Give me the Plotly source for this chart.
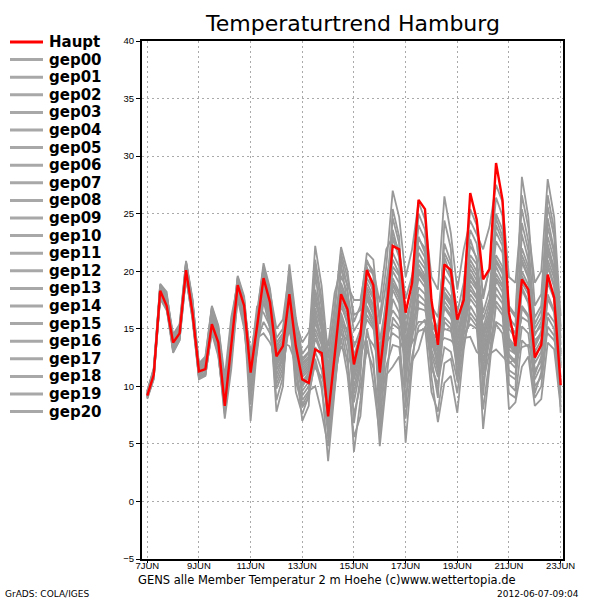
import plotly.graph_objects as go
import pandas as pd

# ---- data -------------------------------------------------------------
times = pd.date_range("2012-06-07 00:00", periods=65, freq="6h")

haupt = [9.2, 11.0, 18.3, 17.0, 13.8, 14.6, 20.1, 16.4, 11.3, 11.5, 15.4, 13.8,
         8.3, 13.5, 18.8, 17.0, 11.2, 15.2, 19.4, 17.3, 12.6, 13.5, 18.0, 13.5,
         10.6, 10.3, 13.2, 12.9, 7.4, 12.6, 18.0, 16.7, 11.9, 14.4, 20.1, 18.8,
         11.2, 16.3, 22.2, 21.9, 16.4, 19.0, 26.2, 25.4, 17.5, 13.6, 20.6, 20.1,
         15.8, 17.5, 26.8, 24.5, 19.3, 20.2, 29.4, 26.2, 16.4, 13.5, 19.3, 18.4,
         12.5, 13.6, 19.7, 17.7, 10.1]

gep00 = [9.2, 11.0, 18.2, 17.2, 13.6, 14.5, 20.0, 16.5, 11.2, 11.6, 15.6, 13.9,
         8.6, 13.6, 18.7, 16.8, 11.0, 15.0, 19.2, 17.0, 12.4, 13.2, 17.6, 13.4,
         10.8, 11.4, 15.0, 13.6, 9.2, 13.0, 17.4, 16.0, 11.2, 13.8, 18.4, 17.0,
         10.6, 15.6, 20.4, 19.6, 13.2, 16.4, 21.0, 20.2, 15.0, 13.2, 18.6, 17.8,
         14.0, 16.2, 20.6, 19.6, 14.6, 16.6, 21.4, 20.4, 14.2, 13.4, 20.8, 19.4,
         13.4, 14.6, 21.0, 19.4, 12.0]
gep01 = [9.4, 11.2, 18.6, 17.6, 14.0, 14.8, 20.4, 17.0, 11.6, 12.0, 16.2, 14.6,
         9.4, 14.2, 19.2, 17.4, 11.8, 15.6, 20.0, 17.8, 13.2, 14.0, 18.6, 14.4,
         11.6, 12.2, 17.6, 15.0, 10.4, 14.4, 19.0, 17.4, 12.6, 14.6, 19.4, 18.4,
         12.8, 17.8, 24.6, 22.4, 14.6, 18.2, 24.0, 22.8, 16.6, 14.8, 22.4, 20.8,
         15.6, 17.6, 22.2, 21.2, 16.4, 18.4, 25.0, 23.6, 16.0, 15.2, 28.2, 24.7,
         17.0, 18.0, 25.6, 23.0, 14.8]
gep02 = [9.0, 10.8, 17.8, 16.8, 13.2, 14.1, 19.6, 16.0, 10.8, 11.0, 14.9, 13.0,
         7.2, 11.5, 17.8, 15.6, 9.2, 13.4, 18.2, 15.4, 9.8, 11.2, 16.0, 11.6,
         8.2, 9.0, 12.4, 10.2, 3.5, 9.5, 15.6, 13.0, 4.3, 8.8, 15.0, 12.4,
         4.8, 10.3, 16.0, 15.2, 5.1, 11.7, 17.4, 17.0, 12.0, 9.6, 16.0, 15.4,
         11.2, 14.4, 18.0, 17.2, 11.0, 14.0, 18.6, 17.6, 11.4, 11.0, 17.0, 16.2,
         10.6, 11.8, 18.0, 16.6, 9.4]
gep03 = [9.5, 11.4, 18.0, 17.0, 14.2, 15.0, 19.4, 16.6, 11.8, 12.4, 15.8, 14.4,
         10.4, 14.8, 18.4, 16.9, 12.8, 14.2, 14.6, 13.8, 12.6, 13.4, 14.8, 12.8,
         11.4, 12.0, 13.4, 12.6, 10.8, 12.4, 14.6, 14.0, 12.4, 13.6, 15.8, 15.0,
         13.0, 14.4, 15.4, 15.0, 13.0, 14.6, 15.6, 15.6, 14.8, 14.0, 15.0, 14.8,
         13.6, 14.6, 15.4, 15.0, 13.4, 14.0, 15.6, 15.2, 13.4, 13.8, 16.0, 15.6,
         14.0, 14.6, 16.4, 15.6, 13.2]
gep04 = [9.3, 11.1, 18.9, 18.2, 13.8, 14.7, 20.9, 17.6, 11.5, 12.1, 16.6, 15.0,
         9.0, 14.5, 19.6, 17.8, 11.5, 16.2, 20.7, 18.5, 13.8, 14.6, 20.6, 16.0,
         12.8, 13.6, 22.2, 18.7, 12.6, 16.4, 22.1, 20.0, 15.6, 17.0, 21.6, 21.0,
         15.4, 19.0, 22.8, 21.2, 15.8, 17.6, 20.6, 19.6, 14.2, 12.4, 17.4, 16.6,
         12.6, 15.2, 19.2, 18.4, 12.8, 15.0, 19.4, 18.6, 12.6, 12.0, 18.4, 17.2,
         12.4, 13.6, 19.4, 17.6, 11.6]
gep05 = [9.1, 10.9, 18.3, 17.3, 13.5, 14.4, 20.1, 16.6, 11.1, 11.5, 15.4, 13.6,
         8.8, 13.2, 18.5, 16.2, 10.4, 14.8, 19.0, 16.6, 11.4, 12.6, 17.2, 12.8,
         10.0, 10.8, 16.0, 14.2, 8.6, 12.2, 17.0, 15.6, 10.6, 12.8, 17.8, 16.4,
         10.2, 14.8, 19.4, 18.2, 12.0, 15.4, 19.8, 19.0, 13.8, 12.0, 18.0, 17.2,
         13.0, 15.6, 19.6, 18.6, 13.0, 15.8, 20.4, 19.2, 13.6, 12.8, 19.6, 18.4,
         13.0, 14.0, 20.4, 18.6, 11.8]
gep06 = [8.9, 10.6, 18.5, 17.5, 12.9, 14.0, 20.6, 16.8, 10.6, 10.9, 15.0, 12.8,
         7.6, 12.4, 19.0, 16.0, 7.0, 13.6, 19.6, 16.3, 7.8, 10.0, 18.4, 12.0,
         7.0, 8.3, 19.8, 15.6, 5.4, 11.8, 20.6, 17.2, 6.8, 10.8, 20.4, 18.0,
         6.2, 14.0, 23.6, 21.4, 8.2, 15.0, 23.0, 21.6, 12.4, 9.0, 21.2, 19.6,
         10.4, 16.0, 22.8, 21.0, 9.2, 15.4, 24.0, 22.6, 10.2, 9.6, 24.2, 21.8,
         9.4, 11.2, 24.6, 21.8, 7.7]
gep07 = [9.6, 11.6, 18.8, 17.9, 14.5, 15.4, 20.8, 17.4, 12.0, 12.6, 17.0, 15.3,
         9.8, 15.2, 19.3, 17.2, 12.2, 15.9, 20.3, 17.9, 14.2, 15.0, 19.5, 15.2,
         12.4, 13.0, 18.4, 16.2, 11.6, 15.6, 19.6, 18.2, 14.8, 15.8, 19.8, 19.0,
         14.0, 17.2, 21.6, 20.4, 15.0, 17.8, 22.2, 21.2, 16.2, 15.0, 20.4, 19.4,
         15.2, 18.0, 21.4, 20.6, 15.8, 17.6, 22.6, 21.6, 15.4, 14.6, 22.0, 20.4,
         15.0, 16.0, 23.0, 21.0, 13.6]
gep08 = [9.2, 11.0, 17.9, 16.9, 13.4, 14.3, 19.8, 16.2, 11.0, 11.4, 15.2, 13.4,
         8.4, 13.0, 18.2, 15.9, 10.8, 14.5, 18.6, 16.2, 11.0, 12.4, 16.6, 12.3,
         9.6, 10.4, 14.2, 12.8, 8.0, 11.6, 16.4, 14.6, 9.4, 12.0, 16.8, 15.4,
         9.0, 13.6, 18.4, 17.2, 11.2, 14.4, 18.6, 18.0, 13.2, 11.4, 17.0, 16.2,
         12.4, 15.0, 18.8, 17.8, 12.2, 14.8, 19.2, 18.2, 12.8, 12.2, 18.6, 17.4,
         12.0, 13.0, 19.0, 17.6, 10.8]
gep09 = [9.4, 11.3, 17.6, 16.6, 14.3, 15.2, 19.3, 16.4, 11.9, 12.3, 16.0, 14.8,
         10.0, 15.6, 18.0, 16.6, 13.0, 13.9, 15.6, 14.6, 13.0, 13.8, 13.5, 12.0,
         11.0, 11.6, 11.6, 10.8, 9.6, 11.2, 13.5, 12.4, 11.8, 12.6, 14.4, 13.6,
         12.4, 13.8, 14.6, 14.2, 12.6, 13.8, 14.8, 15.0, 14.4, 13.6, 14.2, 14.0,
         13.4, 14.2, 14.3, 13.0, 12.6, 12.8, 13.2, 12.6, 12.0, 12.4, 13.4, 13.6,
         12.8, 13.4, 14.6, 14.0, 12.4]
gep10 = [9.3, 11.2, 18.4, 17.4, 13.9, 14.9, 20.2, 16.9, 11.4, 11.9, 16.4, 14.4,
         9.2, 14.0, 19.1, 17.0, 11.4, 15.3, 19.5, 17.5, 12.0, 13.0, 18.2, 13.9,
         11.2, 11.8, 16.8, 14.8, 10.0, 14.0, 18.4, 16.8, 12.0, 14.2, 18.6, 17.6,
         11.6, 16.4, 21.0, 19.8, 13.6, 16.8, 21.6, 20.6, 15.6, 14.2, 19.6, 18.8,
         14.4, 17.0, 21.0, 20.0, 15.0, 17.2, 24.6, 23.0, 17.0, 16.2, 26.6, 23.8,
         19.0, 20.0, 28.0, 24.7, 16.1]
gep11 = [9.0, 10.7, 17.7, 16.7, 13.0, 14.0, 19.5, 15.8, 10.7, 11.1, 14.6, 12.6,
         8.0, 12.2, 17.6, 15.0, 9.8, 13.0, 17.4, 15.0, 10.2, 11.6, 15.4, 11.0,
         8.8, 9.6, 10.0, 7.7, 4.8, 10.0, 15.0, 12.0, 7.6, 10.0, 13.2, 11.6,
         7.4, 11.8, 13.6, 13.4, 9.0, 12.6, 15.2, 15.8, 11.6, 10.2, 13.4, 13.0,
         10.6, 13.6, 16.4, 15.6, 10.4, 13.0, 17.0, 16.2, 11.0, 10.6, 15.2, 14.6,
         10.0, 10.8, 16.0, 15.0, 9.0]
gep12 = [9.2, 11.0, 18.1, 17.1, 13.7, 14.6, 20.0, 16.4, 11.3, 11.7, 15.7, 14.0,
         9.5, 13.9, 18.8, 16.5, 11.2, 15.4, 19.8, 17.2, 12.8, 13.6, 18.9, 14.6,
         11.8, 12.4, 18.0, 15.4, 11.0, 14.8, 18.8, 17.0, 13.4, 14.9, 19.0, 17.8,
         12.0, 16.0, 20.0, 19.0, 13.8, 17.0, 20.2, 19.4, 14.6, 12.8, 18.2, 17.4,
         13.8, 16.4, 20.2, 19.2, 14.0, 16.2, 20.8, 19.8, 14.0, 13.2, 20.0, 18.8,
         13.6, 14.8, 21.6, 19.8, 12.6]
gep13 = [9.1, 10.8, 18.7, 17.8, 13.1, 14.2, 20.7, 17.2, 10.9, 11.2, 15.3, 13.2,
         7.9, 12.8, 19.4, 17.5, 8.4, 14.0, 18.9, 16.0, 8.8, 10.8, 17.0, 9.5,
         7.6, 9.2, 20.6, 16.8, 6.4, 12.6, 21.2, 18.6, 8.6, 11.6, 21.0, 19.6,
         8.0, 15.2, 25.4, 23.0, 10.0, 16.2, 25.0, 23.6, 15.4, 11.2, 24.4, 22.0,
         12.0, 18.6, 25.4, 24.0, 17.6, 20.4, 26.4, 24.8, 15.0, 14.2, 23.2, 21.0,
         11.0, 12.6, 22.4, 20.2, 10.0]
gep14 = [9.5, 11.5, 18.5, 17.6, 14.4, 15.3, 20.5, 17.1, 11.8, 12.5, 16.8, 15.2,
         10.8, 16.0, 18.9, 16.4, 12.5, 16.6, 20.4, 18.2, 15.0, 15.8, 20.0, 15.6,
         13.8, 14.7, 17.2, 15.8, 13.5, 18.1, 20.2, 18.8, 17.5, 17.5, 20.8, 20.0,
         17.3, 21.9, 23.0, 21.8, 17.6, 19.6, 22.8, 22.0, 17.0, 16.0, 21.6, 20.4,
         16.4, 19.0, 23.6, 22.4, 18.0, 20.2, 23.4, 22.2, 16.8, 16.0, 21.4, 20.0,
         16.0, 17.0, 23.8, 21.6, 14.2]
gep15 = [9.3, 11.1, 18.0, 17.0, 13.6, 14.5, 19.7, 16.1, 11.1, 11.4, 15.1, 13.3,
         8.5, 13.4, 18.3, 15.4, 10.1, 14.1, 17.9, 15.6, 10.6, 12.0, 16.2, 12.6,
         9.2, 10.0, 13.0, 11.4, 7.2, 11.0, 16.0, 14.0, 10.0, 12.4, 17.0, 15.8,
         9.6, 13.0, 17.6, 16.4, 11.6, 14.0, 18.0, 17.4, 12.8, 10.8, 15.6, 15.0,
         11.8, 14.8, 17.6, 16.8, 11.6, 14.6, 18.0, 17.2, 12.2, 11.6, 16.8, 16.0,
         11.4, 12.2, 17.6, 16.4, 10.4]
gep16 = [9.4, 11.3, 18.3, 17.3, 14.1, 15.0, 20.3, 16.7, 11.5, 12.0, 16.1, 14.2,
         9.1, 14.6, 18.6, 16.7, 11.7, 16.0, 19.3, 16.9, 12.2, 13.1, 17.8, 13.6,
         10.4, 11.2, 15.6, 13.8, 9.8, 13.4, 17.8, 16.4, 11.6, 13.2, 18.0, 16.8,
         11.0, 15.4, 19.0, 18.0, 12.4, 15.8, 19.4, 18.6, 10.8, 6.9, 10.3, 10.9,
         7.7, 13.2, 17.0, 16.0, 6.3, 11.7, 17.4, 16.6, 8.0, 8.6, 11.7, 12.6,
         8.3, 8.9, 13.8, 13.2, 8.2]
gep17 = [9.2, 11.0, 18.6, 17.7, 13.8, 14.8, 20.6, 17.3, 11.4, 11.8, 16.5, 14.5,
         9.6, 14.4, 19.0, 17.1, 12.0, 17.0, 16.4, 15.2, 13.6, 14.2, 15.0, 13.2,
         12.0, 12.6, 14.6, 13.0, 12.0, 13.8, 15.4, 15.0, 13.8, 14.0, 16.2, 15.2,
         13.6, 15.0, 16.6, 15.8, 14.2, 15.6, 16.8, 16.6, 15.2, 14.6, 16.8, 16.0,
         14.8, 16.6, 18.4, 17.6, 14.4, 16.0, 19.8, 18.8, 13.2, 12.8, 19.0, 18.0,
         14.4, 15.6, 20.6, 18.8, 13.0]
gep18 = [9.6, 11.4, 18.8, 18.0, 14.2, 15.1, 20.8, 17.5, 11.7, 12.2, 16.9, 15.0,
         10.2, 15.0, 19.5, 17.6, 11.9, 15.8, 20.1, 17.6, 13.4, 14.4, 19.2, 14.9,
         12.2, 12.9, 21.0, 17.6, 12.4, 17.0, 21.6, 19.4, 16.2, 16.6, 20.2, 19.8,
         16.0, 20.4, 27.0, 24.7, 19.5, 21.9, 26.0, 24.5, 19.5, 18.4, 26.5, 23.3,
         18.4, 21.9, 24.4, 23.2, 21.9, 23.9, 27.5, 26.0, 19.5, 19.0, 25.4, 22.6,
         15.4, 16.6, 26.6, 23.6, 15.2]
gep19 = [9.0, 10.7, 17.8, 16.8, 13.2, 14.2, 19.5, 15.9, 10.8, 11.0, 14.8, 12.8,
         8.2, 12.6, 17.9, 15.3, 10.6, 14.3, 18.0, 15.8, 11.6, 12.2, 16.4, 10.4,
         8.4, 9.4, 12.0, 9.8, 6.0, 10.4, 14.2, 11.0, 5.6, 7.4, 14.0, 10.3,
         5.8, 11.0, 11.7, 12.6, 7.2, 12.2, 13.2, 15.2, 9.5, 7.8, 12.0, 12.4,
         9.4, 13.8, 16.0, 15.2, 8.0, 12.4, 15.4, 14.6, 9.4, 9.0, 14.0, 13.4,
         9.0, 10.0, 15.2, 14.4, 8.6]
gep20 = [9.3, 11.2, 18.2, 17.2, 13.7, 14.6, 20.1, 16.5, 11.2, 11.6, 15.5, 13.8,
         9.3, 13.7, 18.4, 16.3, 10.9, 14.7, 18.8, 16.5, 11.8, 12.8, 17.4, 13.0,
         10.2, 11.0, 16.4, 14.0, 9.0, 12.8, 17.2, 15.4, 10.8, 13.0, 17.6, 16.2,
         10.4, 14.6, 18.8, 17.6, 12.8, 16.0, 20.0, 19.2, 14.0, 12.2, 17.8, 17.0,
         12.8, 15.8, 19.8, 18.8, 13.6, 15.6, 21.0, 20.0, 13.8, 13.0, 21.0, 19.6,
         14.6, 15.2, 22.0, 20.2, 12.8]

member_names = ["gep00", "gep01", "gep02", "gep03", "gep04", "gep05", "gep06",
                "gep07", "gep08", "gep09", "gep10", "gep11", "gep12", "gep13",
                "gep14", "gep15", "gep16", "gep17", "gep18", "gep19", "gep20"]
member_values = [gep00, gep01, gep02, gep03, gep04, gep05, gep06, gep07, gep08,
                 gep09, gep10, gep11, gep12, gep13, gep14, gep15, gep16, gep17,
                 gep18, gep19, gep20]

x_tick_dates = pd.date_range("2012-06-07", "2012-06-23", freq="2D")
x_tick_text = ["7JUN", "9JUN", "11JUN", "13JUN", "15JUN", "17JUN", "19JUN",
               "21JUN", "23JUN"]
y_ticks = [-5, 0, 5, 10, 15, 20, 25, 30, 35, 40]

title_text = "Temperaturtrend Hamburg"
footer_text = "GENS alle Member Temperatur 2 m Hoehe (c)www.wettertopia.de"
credit_text = "GrADS: COLA/IGES"
stamp_text = "2012-06-07-09:04"

# ---- styling ------------------------------------------------------------
W, H = 600, 600
ML, MR, MT, MB = 142, 37, 41, 41
PW, PH = W - ML - MR, H - MT - MB
GRAY = "#999999"
LEG_GRAY = "#a8a8a8"
RED = "#ff0000"
FONT = "DejaVu Sans"
TICKFONT = "Liberation Sans"


def px_x(px):
    return (px - ML) / PW


def px_y(py):
    return (H - MB - py) / PH


fig = go.Figure()
for name, vals in zip(member_names, member_values):
    fig.add_trace(go.Scatter(x=times, y=vals, mode="lines", name=name,
                             line=dict(color=GRAY, width=1.8),
                             showlegend=False, hoverinfo="skip"))
fig.add_trace(go.Scatter(x=times, y=haupt, mode="lines", name="Haupt",
                         line=dict(color=RED, width=2.4), showlegend=False))

# manual legend on the left
shapes = []
annotations = []
legend_entries = [("Haupt", RED)] + [(n, LEG_GRAY) for n in member_names]
for i, (name, col) in enumerate(legend_entries):
    yy = 42 + i * 17.6
    shapes.append(dict(type="line", xref="paper", yref="paper",
                       x0=px_x(10), x1=px_x(43), y0=px_y(yy), y1=px_y(yy),
                       line=dict(color=col, width=3)))
    annotations.append(dict(text=name, xref="paper", yref="paper",
                            x=px_x(47), y=px_y(yy), xanchor="left",
                            yanchor="middle", showarrow=False,
                            font=dict(family=FONT, size=15, color="black",
                                      weight="bold")))

annotations.append(dict(text=title_text, xref="paper", yref="paper",
                        x=0.5, y=px_y(23), xanchor="center", yanchor="middle",
                        showarrow=False,
                        font=dict(family=FONT, size=22, color="black")))
annotations.append(dict(text=footer_text, xref="paper", yref="paper",
                        x=px_x(327), y=px_y(580), xanchor="center",
                        yanchor="middle", showarrow=False,
                        font=dict(family=FONT, size=11.5, color="black")))
annotations.append(dict(text=credit_text, xref="paper", yref="paper",
                        x=px_x(3), y=px_y(594), xanchor="left",
                        yanchor="middle", showarrow=False,
                        font=dict(family=FONT, size=9, color="black")))
annotations.append(dict(text=stamp_text, xref="paper", yref="paper",
                        x=px_x(581), y=px_y(594), xanchor="right",
                        yanchor="middle", showarrow=False,
                        font=dict(family=FONT, size=9, color="black")))

fig.update_layout(
    width=W, height=H,
    margin=dict(l=ML, r=MR, t=MT, b=MB, pad=0),
    paper_bgcolor="white", plot_bgcolor="white",
    showlegend=False,
    shapes=shapes, annotations=annotations,
    xaxis=dict(type="date",
               range=["2012-06-06 19:06", "2012-06-23 02:12"],
               tickmode="array", tickvals=x_tick_dates, ticktext=x_tick_text,
               showgrid=True, gridcolor="#aaaaaa", gridwidth=1,
               griddash="2px,3px",
               showline=True, mirror=True, linecolor="black", linewidth=2,
               ticks="outside", ticklen=2, tickcolor="black",
               ticklabelstandoff=-5,
               tickfont=dict(family=TICKFONT, size=9.5, color="black"),
               zeroline=False, fixedrange=True),
    yaxis=dict(range=[-5, 40], tickmode="array", tickvals=y_ticks,
               ticktext=[("\u2212" + str(-v)) if v < 0 else str(v) for v in y_ticks],
               showgrid=True, gridcolor="#aaaaaa", gridwidth=1,
               griddash="2px,3px",
               showline=True, mirror=True, linecolor="black", linewidth=2,
               ticks="outside", ticklen=4, tickcolor="black",
               tickfont=dict(family=TICKFONT, size=9.5, color="black"),
               zeroline=False, fixedrange=True),
)

fig.write_html("out.html")
